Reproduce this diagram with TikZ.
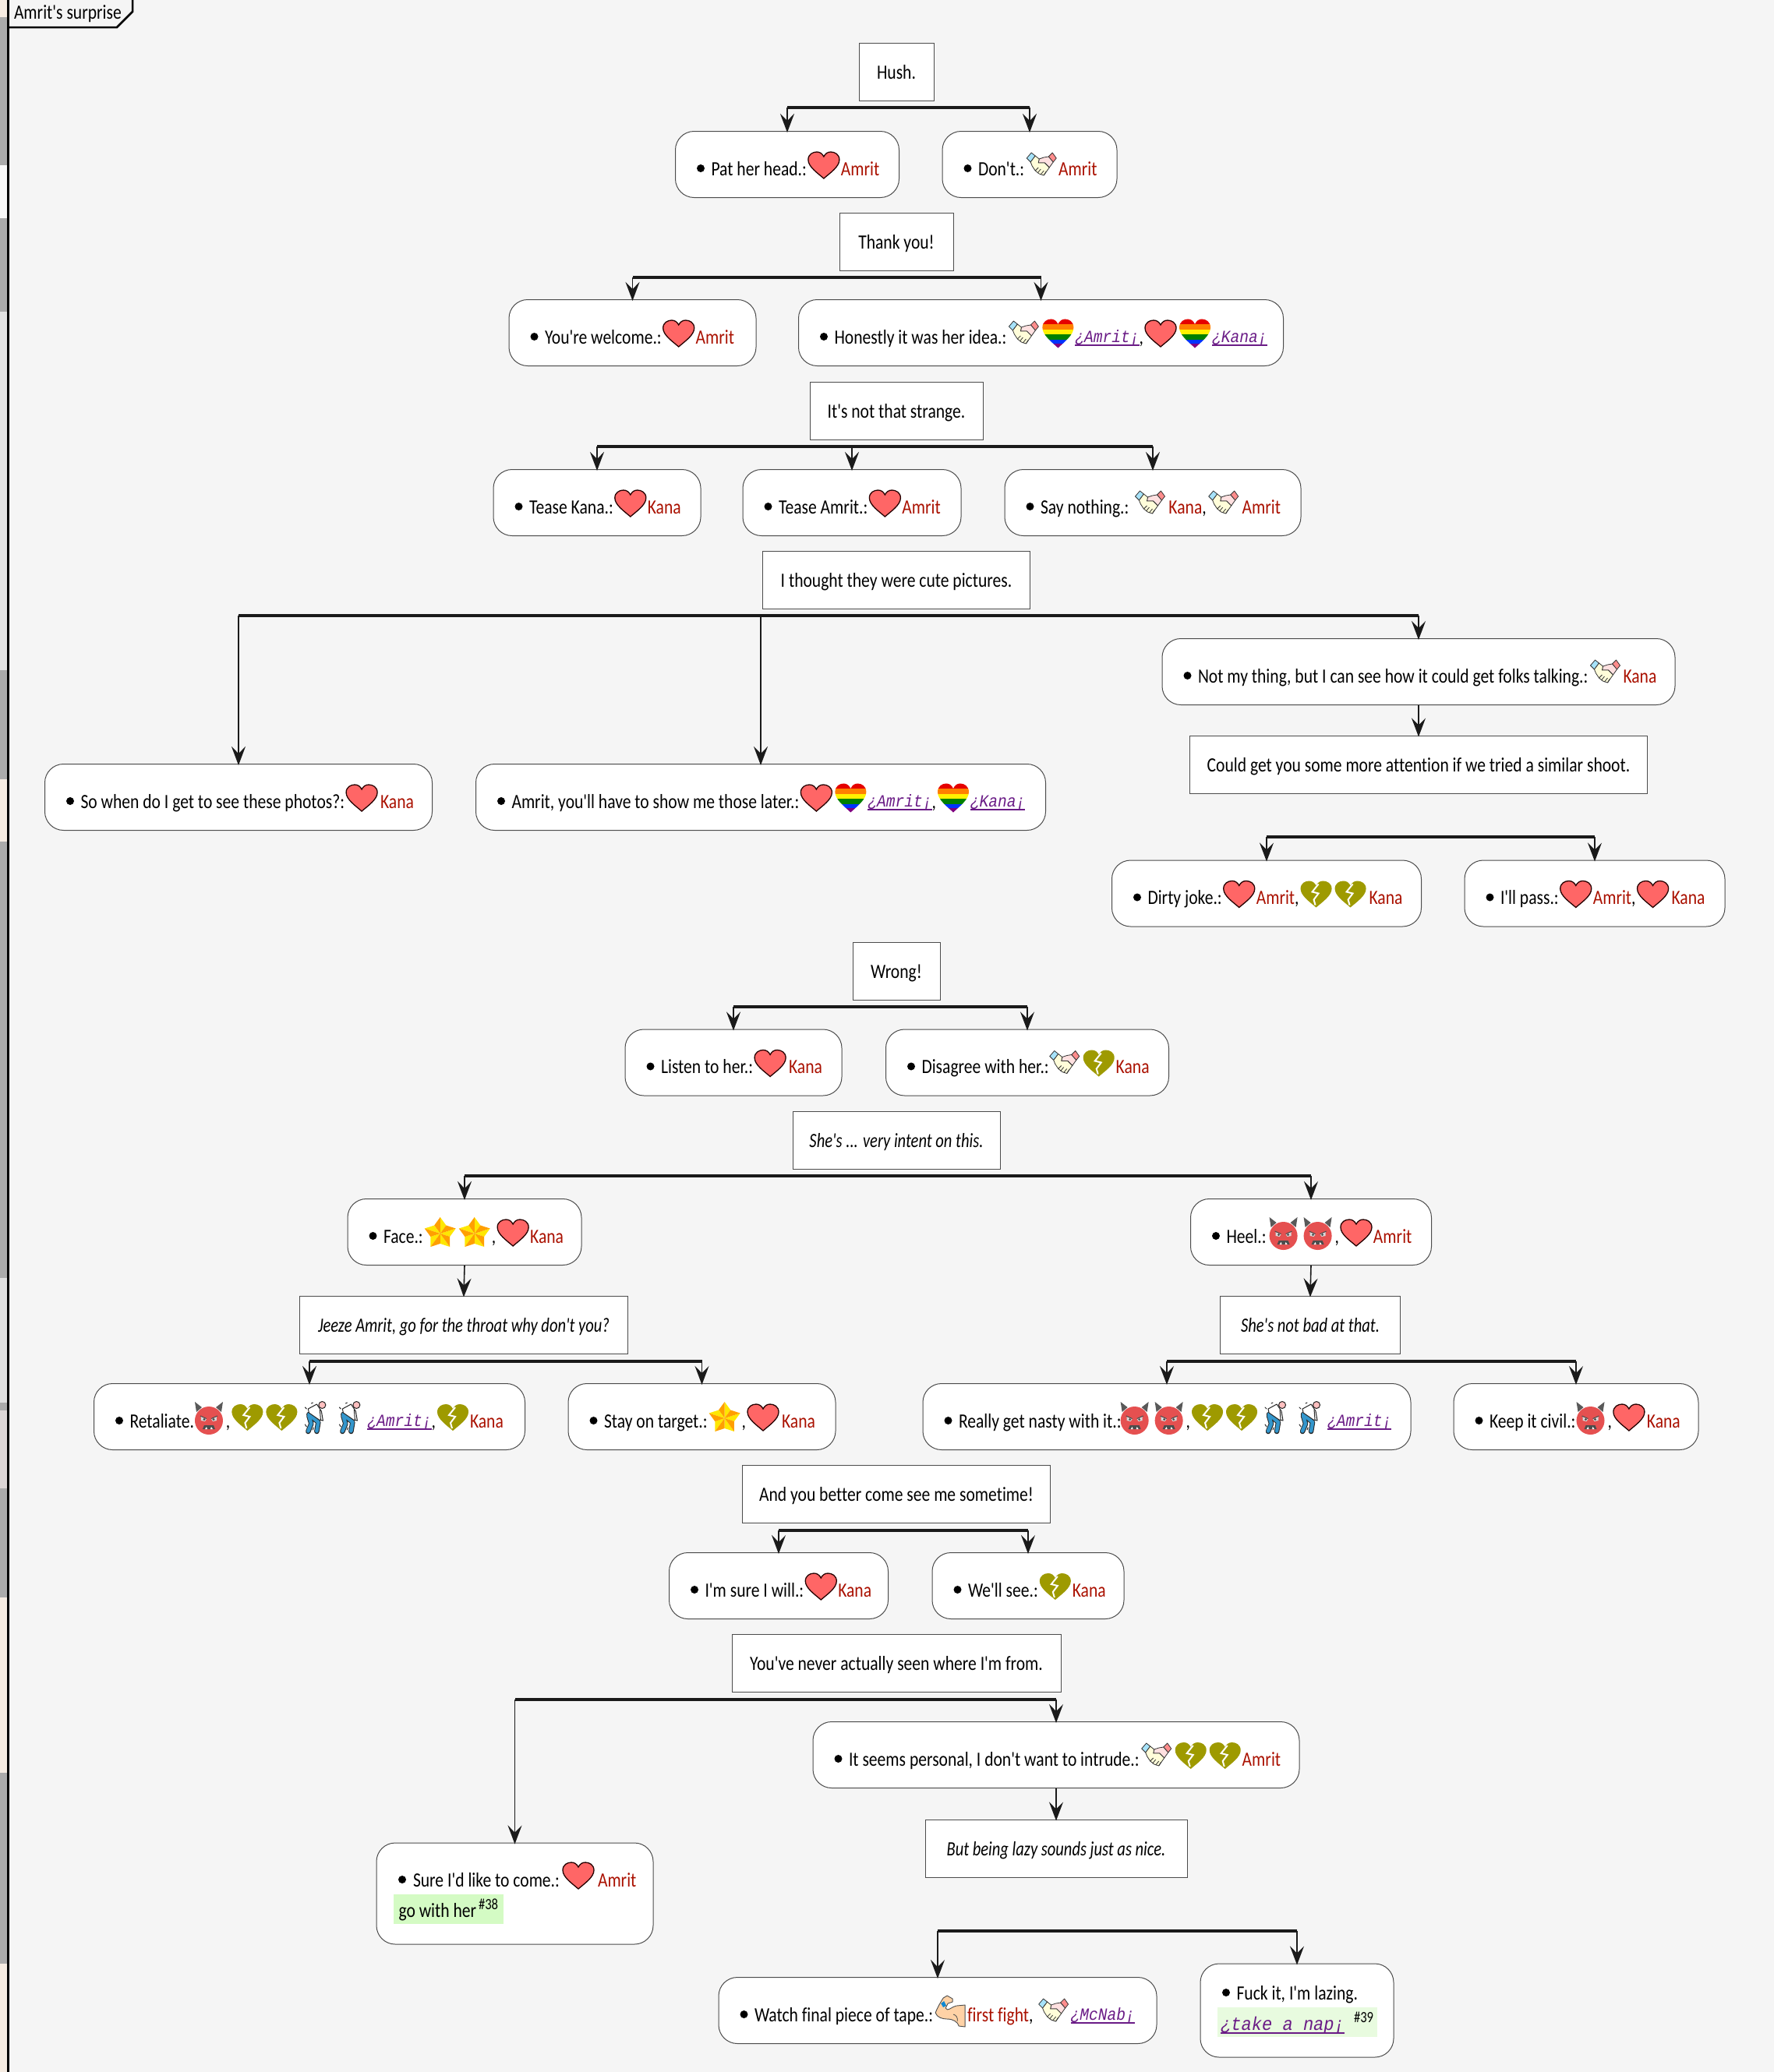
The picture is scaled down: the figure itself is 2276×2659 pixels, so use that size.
\documentclass[tikz,border=0pt]{standalone}
\usepackage{fontspec}
\usetikzlibrary{arrows.meta,calc}
\setmainfont{Carlito}[FakeStretch=0.83,Ligatures={TeXOff,NoCommon},ItalicFeatures={FakeStretch=0.79}]
\newfontfamily\monof{Liberation Mono}[FakeStretch=0.89,Ligatures=TeXOff]
\newfontfamily\monog{Liberation Mono}[FakeStretch=0.92,Ligatures=TeXOff]
\definecolor{bg}{HTML}{F5F5F5}
\definecolor{nm}{HTML}{AA1100}
\definecolor{lk}{HTML}{6A1B86}
\definecolor{hrt}{HTML}{FF6666}
\definecolor{olv}{HTML}{9E9A00}
\definecolor{dvl}{HTML}{E55050}
\definecolor{ink}{HTML}{1A1A1A}
\definecolor{gra}{HTML}{D4FBC4}
\definecolor{grb}{HTML}{E8FBDF}
\newcount\segn
\newcommand\Nm[1]{\textcolor{nm}{#1}}
\newcommand\Lk[1]{\raisebox{2pt}{\color{lk}\monof\itshape\fontsize{22}{26}\selectfont\setbox0\hbox{¿#1¡}\rlap{\rule[-5pt]{\wd0}{2pt}}\box0}}
\newcommand\LkBig[1]{\raisebox{2pt}{\color{lk}\monog\itshape\fontsize{24}{28}\selectfont\setbox0\hbox{¿#1¡}\rlap{\rule[-5pt]{\wd0}{2pt}}\box0}}
\newcommand\Tx[1]{\edef\segp{s\the\segn}\global\advance\segn by 1 \node[seg] (s\the\segn) at (\segp.base east) {#1};}
\newcommand\Em[1]{\edef\segp{s\the\segn}\global\advance\segn by 1 \node[seg,minimum width=44pt] (s\the\segn) at (\segp.base east) {}; \pic at ([yshift=13pt]s\the\segn.base) {#1};}
\newcommand\Row[1]{\fill[black] ([xshift=33pt,yshift=-5pt]#1.west) circle (5pt); \global\advance\segn by 1 \node[seg] (s\the\segn) at ([xshift=46.5pt,yshift=-14pt]#1.west) {};}
\newcommand\RectN[5]{\node[rectn,minimum width=#4pt] (#1) at (#2,#3) {#5};}
\newcommand\RoundN[5]{\node[roundn,minimum width=#4pt] (#1) at (#2,#3) {};}
\newcommand\Fork[4]{\coordinate (fy) at (0,#1); \draw[barline] (#2 |- fy) -- (#3 |- fy); \foreach \n in {#4} {\draw[arr] (\n |- fy) -- (\n.north);}}
\def\heartpath{(0,17) .. controls (-8,10) and (-20,2) .. (-20,-7) .. controls (-20,-14) and (-14,-17) .. (-9,-17) .. controls (-5,-17) and (-2,-15) .. (0,-11) .. controls (2,-15) and (5,-17) .. (9,-17) .. controls (14,-17) and (20,-14) .. (20,-7) .. controls (20,2) and (8,10) .. (0,17) -- cycle}
\tikzset{
  x=1pt,y=-1pt,
  txt/.style={font=\fontsize{26}{30}\selectfont,text=black},
  seg/.style={txt,anchor=base west,inner sep=0pt,outer sep=0pt,minimum width=0pt,minimum height=0pt},
  rectn/.style={txt,draw=black!70,line width=1pt,fill=white,minimum height=74pt,inner sep=0pt,text height=18pt,text depth=0pt,align=center},
  roundn/.style={draw=black!70,line width=1pt,fill=white,rounded corners=24pt,minimum height=85pt,inner sep=0pt},
  barline/.style={ink,line width=3.5pt,line cap=butt},
  arr/.style={ink,line width=1.6pt,shorten >=-2pt,-{Stealth[length=24pt,width=18pt,inset=9pt]}},
  pics/heart/.style={code={\draw[fill=hrt,draw=black!85!red,line width=1.3pt] \heartpath;}},
  pics/bheart/.style={code={\fill[olv] \heartpath; \draw[white,line width=2pt] (3,-13) -- (-5,-3) -- (3,-1) -- (-3,7) -- (-1,14);}},
  pics/rainbow/.style={code={\begin{scope}[yscale=1.09]\clip \heartpath;
     \fill[red!90!black] (-22,-20) rectangle (22,-11);
     \fill[orange] (-22,-11) rectangle (22,-5);
     \fill[yellow] (-22,-5) rectangle (22,1);
     \fill[green!50!black] (-22,1) rectangle (22,7);
     \fill[blue!80!cyan] (-22,7) rectangle (22,12);
     \fill[violet] (-22,12) rectangle (22,20);\end{scope}}},
  pics/star/.style={code={
     \foreach \a in {-90,-18,54,126,198}{
       \fill[yellow!90!orange] (0,1) -- ++(\a:21) -- ++(\a+144:13) -- cycle;
       \fill[orange!75!yellow] (0,1) -- ++(\a:21) -- ++(\a-144:13) -- cycle;
     }}},
  pics/devil/.style={code={
     \fill[black!65] (-16,-7) -- (-18,-20) -- (-9,-13) -- cycle;
     \fill[black!65] (16,-7) -- (18,-20) -- (9,-13) -- cycle;
     \fill[dvl] (0,4) circle (18);
     \fill[white!85!black] (-10,-1) -- (-3,2) -- (-5,5) -- (-10,4) -- cycle;
     \fill[white!85!black] (10,-1) -- (3,2) -- (5,5) -- (10,4) -- cycle;
     \fill[black!70] (-6,2.5) circle (1.6) (6,2.5) circle (1.6);
     \draw[black!70,line width=1pt] (-11,-2) -- (-3,1.5) (11,-2) -- (3,1.5);
     \fill[black!70] (-8,15) -- (-6,10) -- (6,10) -- (8,15) -- cycle;
     \fill[white] (-5,15) -- (-3,12) -- (-2,15) -- cycle (5,15) -- (3,12) -- (2,15) -- cycle;
  }},
  pics/hand/.style={code={
     \begin{scope}[draw=black!80,line width=0.8pt,line join=round]
     \filldraw[fill=cyan!35] (-19,-9) -- (-13,-16) -- (-8,-12) -- (-14,-4) -- cycle;
     \filldraw[fill=red!45!white] (19,-9) -- (14,-16) -- (9,-11) -- (15,-4) -- cycle;
     \filldraw[fill=red!12!white] (9,-11) -- (15,-4) -- (10,3) -- (4,-3) -- (-4,-3) -- (-3,-8) -- (3,-10) -- cycle;
     \filldraw[fill=yellow!15!white] (-14,-4) -- (-8,-12) -- (-3,-8) -- (-4,-3) -- (4,-3) -- (10,3) -- (3,13) -- (-3,11) -- (-8,7) -- (-12,1) -- cycle;
     \draw (-8,7) -- (-4,3) (-5,10) -- (-1,5) (-1,12) -- (3,7) (3,13) -- (6,8);
     \end{scope}}},
  pics/man/.style={code={
     \begin{scope}[line join=round,line cap=round]
     \draw[black!85,line width=6.5pt] (-9,-4) -- (3,6) -- (1,18) (-9,-2) -- (-6,8) -- (-10,18);
     \draw[blue!35!cyan!60!gray,line width=4.5pt] (-9,-4) -- (3,6) -- (1,17.5) (-9,-2) -- (-6,8) -- (-10,17.5);
     \filldraw[fill=white,draw=black!85,line width=1pt] (-10,-11) -- (1,-17) -- (7,-8) -- (9,4) -- (4,3) -- (-9,-6) -- cycle;
     \draw[black!85,line width=1pt] (5,-10) -- (6,3);
     \filldraw[fill=red!25!white,draw=black!85,line width=1pt] (8,-16) circle (4.5);
     \draw[black!85,line width=1pt] (-6,-18) -- (-4,-19) (-14,9) -- (-12,12) (-12,-11) -- (-14,-13) (-4,16) -- (-3,13);
     \end{scope}}},
  pics/muscle/.style={code={
     \filldraw[fill=orange!35!white,draw=black!70,line width=0.9pt,line join=round]
       (-19,2) .. controls (-16,-6) and (-12,-12) .. (-9,-17) -- (-4,-20) -- (3,-16) -- (3,-12) -- (-3,-10) -- (-6,-4) .. controls (-3,1) and (0,-5) .. (8,-7) -- (19,-8) -- (19,20) -- (11,19) .. controls (10,14) and (4,10) .. (-4,10) .. controls (-10,10) and (-17,8) .. (-19,2) -- cycle;
     \fill[cyan!70!blue] (-12,-10) -- (-8,-13) -- (-5,-7) -- (-9,-5) -- cycle;
     \draw[black!70,line width=0.8pt] (4,4) .. controls (8,5) and (10,9) .. (9,13);
  }},
}
\begin{document}
\begin{tikzpicture}
\useasboundingbox (0,0) rectangle (2276,2659);
\fill[bg] (0,0) rectangle (2276,2659);
% left strip
\fill[black!33] (0,0) rectangle (9,2659);
\fill[white!85!brown] (0,0) rectangle (9,22);
\fill[white!95!gray] (0,212) rectangle (9,280);
\fill[white!78!gray] (0,400) rectangle (9,860);
\fill[white!85!brown] (0,1000) rectangle (9,1080);
\fill[white!75!gray] (0,1640) rectangle (9,1800);
\fill[red!8!gray!30!white] (0,1810) rectangle (9,1910);
\fill[white!85!brown] (0,2050) rectangle (9,2275);
\fill[white!85!brown] (0,2520) rectangle (9,2659);
\draw[black,line width=3pt] (10.5,0) -- (10.5,2659);
% tag
\filldraw[fill=bg,draw=black,line width=2.5pt] (10.5,0) -- (10.5,35) -- (150,35) -- (170,15) -- (170,-3);
\node[seg] (tag) at (18,24) {Amrit's surprise};
% rectangles
\RectN{hush}{1150}{92}{96}{Hush.}
\RectN{thank}{1150}{310}{146}{Thank you!}
\RectN{strange}{1150}{527}{222}{It's not that strange.}
\RectN{thought}{1150}{744}{343}{I thought they were cute pictures.}
\RectN{could}{1820}{981}{587}{Could get you some more attention if we tried a similar shoot.}
\RectN{wrong}{1150}{1246}{112}{Wrong!}
\RectN{intent}{1150}{1463}{266}{\itshape She's ... very intent on this.}
\RectN{jeeze}{595}{1700}{421}{\itshape Jeeze Amrit, go for the throat why don't you?}
\RectN{notbad}{1681}{1700}{231}{\itshape She's not bad at that.}
\RectN{better}{1150}{1917}{395}{And you better come see me sometime!}
\RectN{never}{1150}{2134}{422}{You've never actually seen where I'm from.}
\RectN{lazy}{1355}{2372}{336}{\itshape But being lazy sounds just as nice.}
% rounded
\RoundN{pat}{1010}{211}{287}{}
\RoundN{dont}{1321}{211}{224}{}
\RoundN{welcome}{811.5}{427}{317}{}
\RoundN{honest}{1335.5}{427}{622}{}
\RoundN{tkana}{766}{645}{266}{}
\RoundN{tamrit}{1093}{645}{280}{}
\RoundN{saynot}{1479}{645}{380}{}
\RoundN{notmy}{1820}{862}{658}{}
\RoundN{sowhen}{306}{1023}{497}{}
\RoundN{showme}{976}{1023}{731}{}
\RoundN{dirty}{1625}{1146.5}{397}{}
\RoundN{pass}{2046}{1146.5}{334}{}
\RoundN{listen}{941}{1363.5}{278}{}
\RoundN{disagree}{1318}{1363.5}{363}{}
\RoundN{face}{596}{1581}{300}{}
\RoundN{heel}{1682}{1581}{309}{}
\RoundN{retal}{397}{1818}{553}{}
\RoundN{stay}{900.5}{1818}{343}{}
\RoundN{nasty}{1497}{1818}{626}{}
\RoundN{civil}{2022}{1818}{314}{}
\RoundN{sure}{999}{2035}{281}{}
\RoundN{wesee}{1319}{2035}{246}{}
\RoundN{seems}{1355}{2252}{624}{}
\node[roundn,minimum width=355pt,minimum height=130pt] (come) at (660.5,2430) {};
\RoundN{watch}{1203}{2580}{562}{}
\node[roundn,minimum width=248pt,minimum height=120pt] (fuck) at (1664,2580) {};
% forks
\Fork{138}{pat}{dont}{pat,dont}
\Fork{356}{welcome}{honest}{welcome,honest}
\Fork{573}{tkana}{saynot}{tkana,tamrit,saynot}
\Fork{790}{sowhen}{notmy}{sowhen,showme,notmy}
\Fork{1074}{dirty}{pass}{dirty,pass}
\Fork{1292}{listen}{disagree}{listen,disagree}
\Fork{1509}{face}{heel}{face,heel}
\Fork{1747}{retal}{stay}{retal,stay}
\Fork{1747}{nasty}{civil}{nasty,civil}
\Fork{1964}{sure}{wesee}{sure,wesee}
\Fork{2181}{come}{seems}{come,seems}
\Fork{2478}{watch}{fuck}{watch,fuck}
\draw[arr] (notmy.south) -- (could.north);
\draw[arr] (face.south) -- (jeeze.north);
\draw[arr] (heel.south) -- (notbad.north);
\draw[arr] (seems.south) -- (lazy.north);
% contents
\Row{pat}\Tx{Pat her head.:}\Em{heart}\Tx{\Nm{Amrit}}
\Row{dont}\Tx{Don't.:}\Em{hand}\Tx{\Nm{Amrit}}
\Row{welcome}\Tx{You're welcome.:}\Em{heart}\Tx{\Nm{Amrit}}
\Row{honest}\Tx{Honestly it was her idea.:}\Em{hand}\Em{rainbow}\Tx{\Lk{Amrit},}\Em{heart}\Em{rainbow}\Tx{\Lk{Kana}}
\Row{tkana}\Tx{Tease Kana.:}\Em{heart}\Tx{\Nm{Kana}}
\Row{tamrit}\Tx{Tease Amrit.:}\Em{heart}\Tx{\Nm{Amrit}}
\Row{saynot}\Tx{Say nothing.:\kern5pt}\Em{hand}\Tx{\kern2pt\Nm{Kana},}\Em{hand}\Tx{\kern2pt\Nm{Amrit}}
\Row{notmy}\Tx{Not my thing, but I can see how it could get folks talking.:}\Em{hand}\Tx{\kern1pt\Nm{Kana}}
\Row{sowhen}\Tx{So when do I get to see these photos?:}\Em{heart}\Tx{\kern2pt\Nm{Kana}}
\Row{showme}\Tx{Amrit, you'll have to show me those later.:}\Em{heart}\Em{rainbow}\Tx{\Lk{Amrit},}\Em{rainbow}\Tx{\Lk{Kana}}
\Row{dirty}\Tx{Dirty joke.:}\Em{heart}\Tx{\Nm{Amrit},}\Em{bheart}\Em{bheart}\Tx{\kern2pt\Nm{Kana}}
\Row{pass}\Tx{I'll pass.:}\Em{heart}\Tx{\Nm{Amrit},}\Em{heart}\Tx{\kern2pt\Nm{Kana}}
\Row{listen}\Tx{Listen to her.:}\Em{heart}\Tx{\kern2pt\Nm{Kana}}
\Row{disagree}\Tx{Disagree with her.:\kern-2pt}\Em{hand}\Em{bheart}\Tx{\Nm{Kana}}
\Row{face}\Tx{Face.:}\Em{star}\Em{star}\Tx{,}\Em{heart}\Tx{\Nm{Kana}}
\Row{heel}\Tx{Heel.:}\Em{devil}\Em{devil}\Tx{,}\Em{heart}\Tx{\Nm{Amrit}}
\Row{retal}\Tx{Retaliate.\kern-3pt}\Em{devil}\Tx{,}\Em{bheart}\Em{bheart}\Em{man}\Em{man}\Tx{\Lk{Amrit},}\Em{bheart}\Tx{\Nm{Kana}}
\Row{stay}\Tx{Stay on target.:}\Em{star}\Tx{,}\Em{heart}\Tx{\kern2pt\Nm{Kana}}
\Row{nasty}\Tx{Really get nasty with it.:\kern-5pt}\Em{devil}\Em{devil}\Tx{,}\Em{bheart}\Em{bheart}\Em{man}\Em{man}\Tx{\Lk{Amrit}}
\Row{civil}\Tx{Keep it civil.:\kern-3pt}\Em{devil}\Tx{,}\Em{heart}\Tx{\kern1pt\Nm{Kana}}
\Row{sure}\Tx{I'm sure I will.:}\Em{heart}\Tx{\Nm{Kana}}
\Row{wesee}\Tx{We'll see.:}\Em{bheart}\Tx{\Nm{Kana}}
\Row{seems}\Tx{It seems personal, I don't want to intrude.:}\Em{hand}\Em{bheart}\Em{bheart}\Tx{\Nm{Amrit}}
\Row{watch}\Tx{Watch final piece of tape.:}\Em{muscle}\Tx{\Nm{first fight},\kern4pt}\Em{hand}\Tx{\Lk{McNab}}
% two-line nodes
\fill[black] (516,2412) circle (5pt);
\node[seg] (c1) at (530,2421) {Sure I'd like to come.:};
\pic at (742,2407) {heart};
\node[seg] (c2) at (767,2421) {\Nm{Amrit}};
\fill[gra] (505,2431) rectangle (646,2469);
\node[seg] (c3) at (511.5,2460) {go with her};
\node[seg,font=\fontsize{20}{24}\selectfont] (c4) at (614,2450) {\#38};
\fill[black] (1573,2557) circle (5pt);
\node[seg] (f1) at (1586.5,2566) {Fuck it, I'm lazing.};
\fill[grb] (1562,2576) rectangle (1767,2614);
\node[seg] (f2) at (1566,2607) {\LkBig{take a nap}};
\node[seg,font=\fontsize{20}{24}\selectfont] (f3) at (1737,2595) {\#39};
\end{tikzpicture}
\end{document}
